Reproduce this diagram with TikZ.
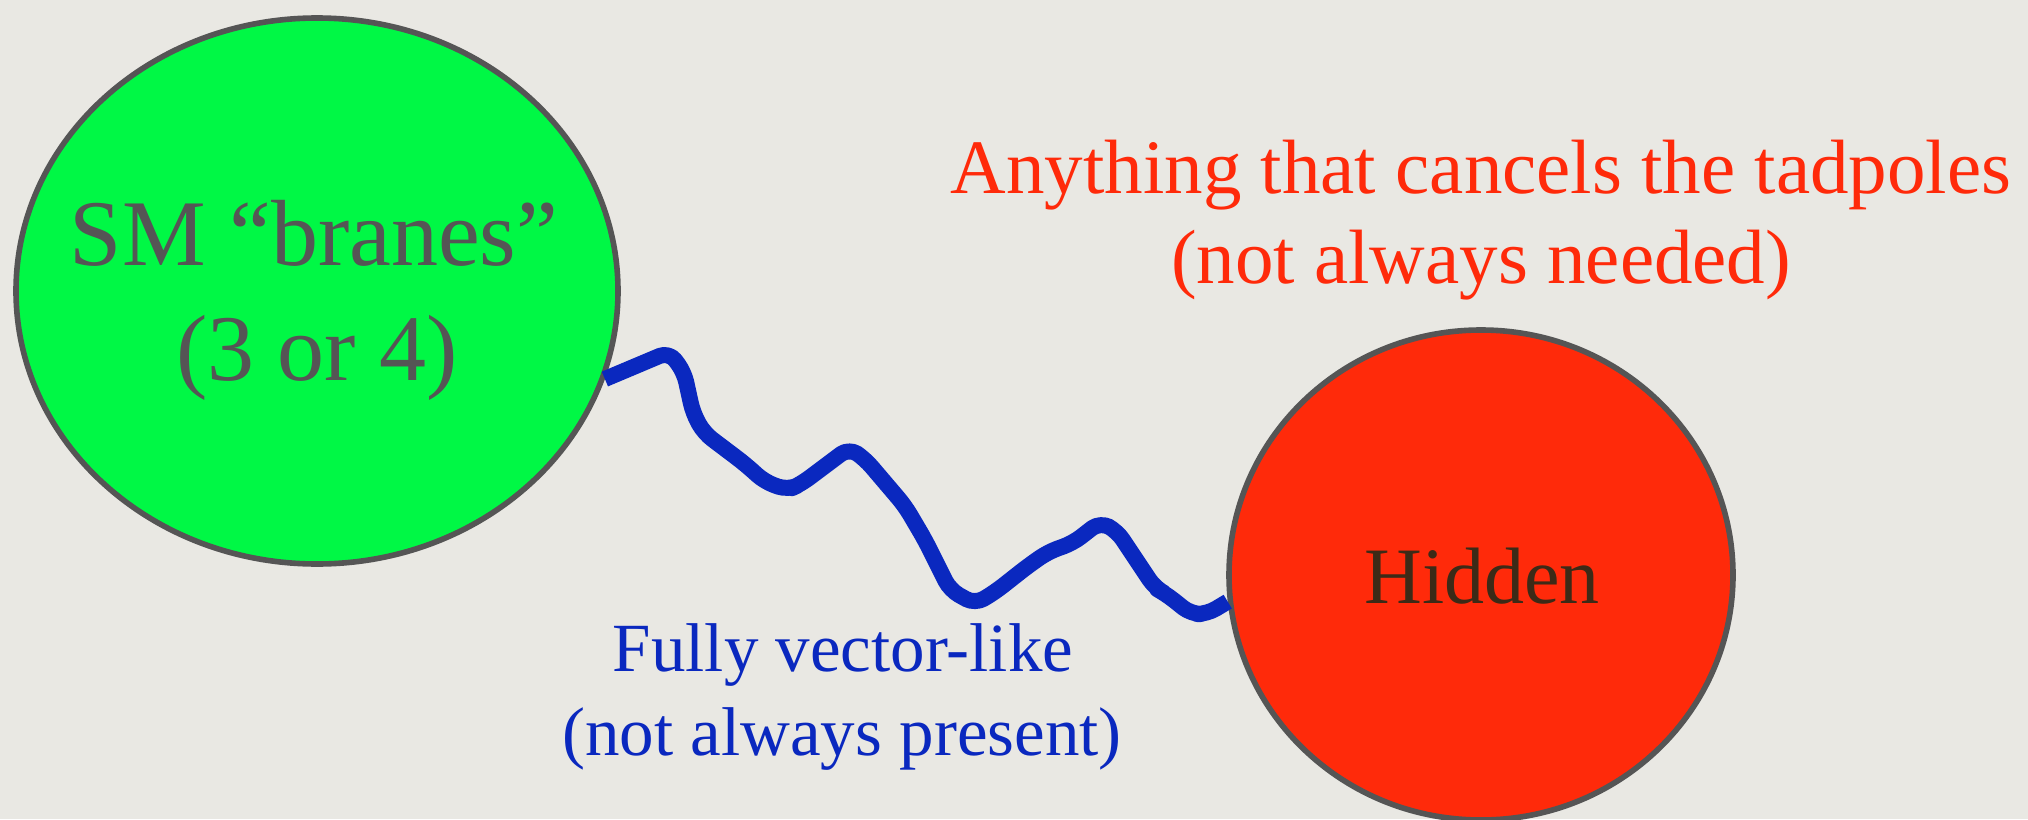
\documentclass[tikz,border=0pt]{standalone}
\usepackage{fontspec}
\setmainfont{Liberation Serif}
\usetikzlibrary{shapes.geometric}
\definecolor{bg}{HTML}{E9E8E3}
\definecolor{smgreen}{HTML}{00F845}
\definecolor{hidred}{HTML}{FF2A0A}
\definecolor{rim}{HTML}{555555}
\definecolor{smtext}{HTML}{555555}
\definecolor{hidtext}{HTML}{3C2A17}
\definecolor{wireblue}{HTML}{0A28BF}
\definecolor{redtext}{HTML}{FF2A0A}
\tikzset{
  blob/.style={ellipse, draw=rim, line width=2.8pt, inner sep=0pt},
  txt/.style={anchor=base, inner sep=0pt},
  wire/.style={draw=wireblue, line width=8pt, line cap=butt, line join=round, rounded corners=5pt}
}
\begin{document}
\begin{tikzpicture}[x=0.5pt, y=-0.5pt]
\fill[bg] (0,0) rectangle (2028,819);
\useasboundingbox (0,0) rectangle (2028,819);
\clip (0,0) rectangle (2028,819);
% bubbles
\node[blob, fill=smgreen, minimum width=301pt, minimum height=273pt] (sm) at (317,291) {};
\node[blob, fill=hidred, minimum width=252pt, minimum height=245pt] (hid) at (1481,575) {};
% wiggly connector
\draw[wire] (sm.-17) -- (669,352) -- (684,372) -- (693,413) -- (704,433)
  -- (745,464) -- (765,482) -- (788,490) -- (801,484) -- (849,448) -- (865,459)
  -- (905,506) -- (925,540) -- (950,590) -- (975,604) -- (995,592) -- (1028,566)
  -- (1048,552) -- (1073,543) -- (1100,522) -- (1117,531) -- (1155,588)
  -- (1166,594) -- (1191,614) -- (1207,614) -- (hid.186);
% texts
\node[txt, text=smtext, font=\fontsize{47}{52}\selectfont] (sm1) at (314,265) {SM “branes”};
\node[txt, text=smtext, font=\fontsize{47}{52}\selectfont] (sm2) at (317,380) {(3 or 4)};
\node[txt, text=hidtext, font=\fontsize{40}{46}\selectfont] (hidlabel) at (1482,603) {Hidden};
\node[txt, text=redtext, font=\fontsize{38.5}{44}\selectfont] (red1) at (1481,193) {Anything that cancels the tadpoles};
\node[txt, text=redtext, font=\fontsize{38.5}{44}\selectfont] (red2) at (1481,283) {(not always needed)};
\node[txt, text=wireblue, font=\fontsize{34.5}{40}\selectfont] (blue1) at (843,671) {Fully vector-like};
\node[txt, text=wireblue, font=\fontsize{34.5}{40}\selectfont] (blue2) at (842,755) {(not always present)};
\end{tikzpicture}
\end{document}
